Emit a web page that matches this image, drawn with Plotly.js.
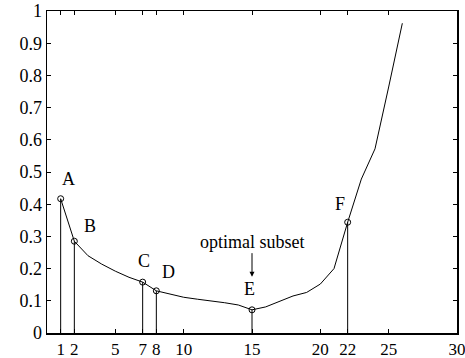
<!DOCTYPE html>
<html>
<head>
<meta charset="utf-8">
<script src="https://cdn.plot.ly/plotly-3.0.1.min.js"></script>
<style>
  html, body { margin: 0; padding: 0; background: #fff; }
  #chart { width: 465px; height: 358px; }
</style>
</head>
<body>
<div id="chart"></div>
<script>
// Error curve over subset size
const subsetSize = [1, 2, 3, 4, 5, 6, 7, 8, 9, 10, 11, 12, 13, 14, 15, 16, 17, 18, 19, 20, 21, 22, 23, 24, 25, 26];
const errorRate  = [0.417, 0.285, 0.240, 0.214, 0.192, 0.173, 0.158, 0.131, 0.121, 0.111, 0.105, 0.100, 0.094, 0.087, 0.072, 0.081, 0.099, 0.115, 0.126, 0.152, 0.200, 0.344, 0.478, 0.572, 0.764, 0.962];

// Highlighted subsets with their labels and label offsets (px)
const markLabels = ['A', 'B', 'C', 'D', 'E', 'F'];
const markX      = [1, 2, 7, 8, 15, 22];
const markY      = [0.417, 0.285, 0.158, 0.131, 0.072, 0.344];
const labelDX    = [8, 16, 1, 12, -3, -8];
const labelDY    = [20, 15, 21, 19, 21, 18];

// Axis ticks
const xTicks = [1, 2, 5, 7, 8, 10, 15, 20, 22, 25, 30];
const yTicks = [0, 0.1, 0.2, 0.3, 0.4, 0.5, 0.6, 0.7, 0.8, 0.9, 1];
const yTickText = ['0', '0.1', '0.2', '0.3', '0.4', '0.5', '0.6', '0.7', '0.8', '0.9', '1'];

const arrowText = 'optimal subset';
const arrowTipY = 0.175;

const serif = 'Liberation Serif, Times New Roman, serif';

// Vertical stems from the axis up to each highlighted point
const stemX = [], stemY = [];
markX.forEach((x, i) => { stemX.push(x, x, null); stemY.push(0, markY[i], null); });

const traces = [
  { x: stemX, y: stemY, mode: 'lines', line: { color: '#000', width: 1 }, hoverinfo: 'skip' },
  { x: subsetSize, y: errorRate, mode: 'lines', line: { color: '#000', width: 1 } },
  { x: markX, y: markY, mode: 'markers',
    marker: { symbol: 'circle-open', size: 6, color: '#000', line: { width: 1, color: '#000' } } }
];

const annotations = markLabels.map((t, i) => ({
  x: markX[i], y: markY[i], xref: 'x', yref: 'y', text: t, showarrow: false,
  xshift: labelDX[i], yshift: labelDY[i],
  font: { family: serif, size: 18, color: '#000' }
}));

annotations.push({
  x: 15, y: arrowTipY, xref: 'x', yref: 'y', text: arrowText,
  showarrow: true, arrowhead: 2, arrowsize: 1, arrowwidth: 1, arrowcolor: '#000',
  ax: 0, ay: -35, standoff: 0, startstandoff: 0,
  font: { family: serif, size: 18, color: '#000' }
});

const axisCommon = {
  showgrid: false, zeroline: false, showline: true, linecolor: '#000', linewidth: 1.5,
  mirror: 'ticks', ticks: 'inside', ticklen: 4, tickwidth: 1, tickcolor: '#000',
  ticklabeloverflow: 'allow', fixedrange: true
};

const layout = {
  width: 465, height: 358,
  margin: { l: 47, r: 8, t: 11, b: 25 },
  paper_bgcolor: '#fff', plot_bgcolor: '#fff',
  showlegend: false,
  xaxis: Object.assign({}, axisCommon, {
    range: [0, 30], tickmode: 'array', tickvals: xTicks, ticktext: xTicks.map(String),
    tickfont: { family: serif, size: 17, color: '#000' }
  }),
  yaxis: Object.assign({}, axisCommon, {
    range: [0, 1], tickmode: 'array', tickvals: yTicks, ticktext: yTickText,
    tickfont: { family: serif, size: 18, color: '#000' }
  }),
  annotations: annotations
};

Plotly.newPlot('chart', traces, layout, { staticPlot: true, displayModeBar: false });
</script>
</body>
</html>
